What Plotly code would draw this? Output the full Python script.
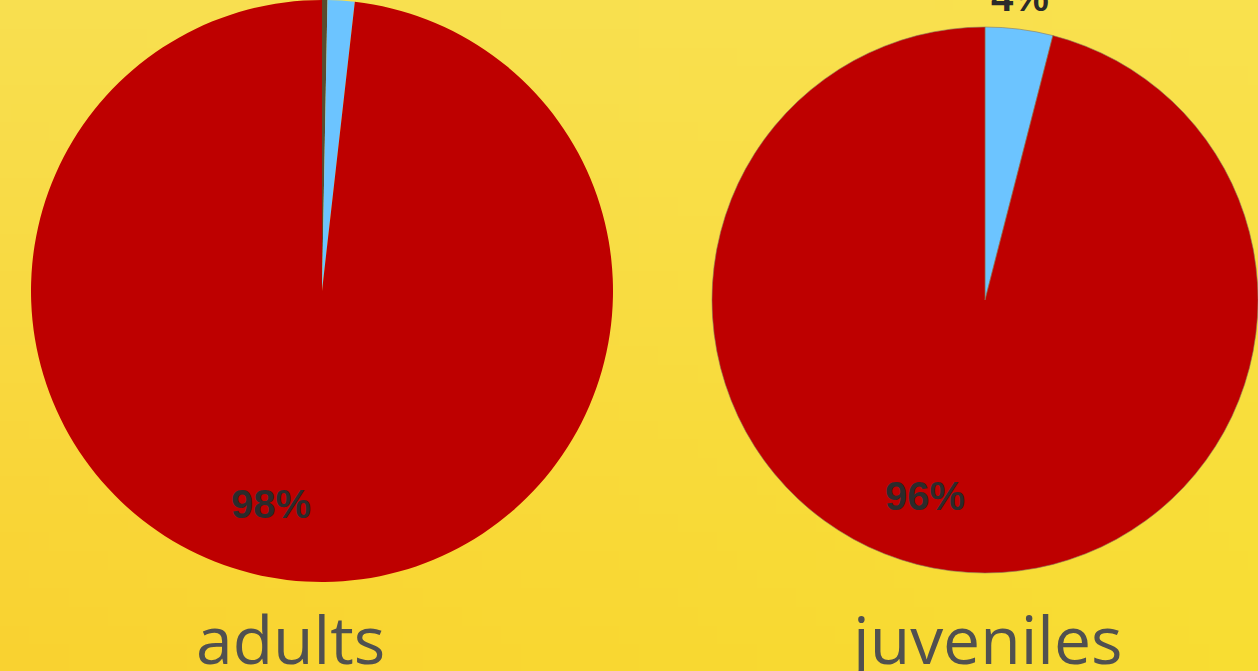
import base64
import struct
import zlib

import plotly.graph_objects as go

# ---- data ----
groups = ["adults", "juveniles"]
categories = ["other", "blue", "red"]
adult_values = [0.3, 1.5, 98.2]
juvenile_values = [0.0, 4.0, 96.0]
adult_labels = ["98%"]
juvenile_labels = ["4%", "96%"]

colors = ["#5A4B2E", "#6CC4FF", "#BE0000"]

W, H = 1258, 671


# ---- gradient background as an embedded PNG ----
def make_png(w, h, corners):
    tl, tr, bl, br = corners
    rows = []
    for j in range(h):
        v = j / (h - 1)
        row = bytearray([0])
        for i in range(w):
            u = i / (w - 1)
            for c in range(3):
                top = tl[c] * (1 - u) + tr[c] * u
                bot = bl[c] * (1 - u) + br[c] * u
                row.append(int(round(top * (1 - v) + bot * v)))
        rows.append(bytes(row))
    raw = b"".join(rows)

    def chunk(t, d):
        c = struct.pack(">I", len(d)) + t + d
        return c + struct.pack(">I", zlib.crc32(t + d) & 0xFFFFFFFF)

    data = b"\x89PNG\r\n\x1a\n"
    data += chunk(b"IHDR", struct.pack(">IIBBBBB", w, h, 8, 2, 0, 0, 0))
    data += chunk(b"IDAT", zlib.compress(raw, 9))
    data += chunk(b"IEND", b"")
    return "data:image/png;base64," + base64.b64encode(data).decode()


bg = make_png(64, 36, [(248, 223, 80), (249, 225, 78), (249, 210, 48), (248, 221, 50)])


def px_x(a, b):
    return [a / W, min(b / W, 1.0)]


def px_y(top, bottom):
    return [max(1 - bottom / H, 0.0), min(1 - top / H, 1.0)]


fig = go.Figure()

fig.add_trace(go.Pie(
    labels=categories, values=adult_values,
    textinfo="none",
    sort=False, direction="clockwise", rotation=0,
    marker=dict(colors=colors, line=dict(width=0)),
    domain=dict(x=px_x(30, 614), y=px_y(0, 582)),
    showlegend=False, hoverinfo="label+percent",
))

fig.add_trace(go.Pie(
    labels=categories, values=juvenile_values,
    textinfo="none",
    sort=False, direction="clockwise", rotation=0,
    marker=dict(colors=colors, line=dict(width=0.6, color="#8A7A60")),
    domain=dict(x=px_x(712, 1258), y=px_y(27, 573)),
    showlegend=False, hoverinfo="label+percent",
))

pct_font = dict(family="Liberation Sans", size=40, color="#2B2B2B", weight="bold")
label_pos = [(adult_labels[0], 271, 504), (juvenile_labels[0], 1020, -3), (juvenile_labels[1], 925, 496)]
for txt, x, y in label_pos:
    fig.add_annotation(
        text=txt, x=x / W, y=1 - y / H, xref="paper", yref="paper",
        xanchor="center", yanchor="middle", showarrow=False, font=pct_font,
    )

for name, xc in zip(groups, [290, 985]):
    fig.add_annotation(
        text=name, x=xc / W, y=1 - 662 / H, xref="paper", yref="paper",
        xanchor="center", yanchor="bottom", yshift=-23, showarrow=False,
        font=dict(family="Open Sans", size=66, color="#505050", weight=400),
    )

fig.update_layout(
    width=W, height=H,
    margin=dict(l=0, r=0, t=0, b=0),
    paper_bgcolor="#F8DB3E",
    plot_bgcolor="#F8DB3E",
    images=[dict(source=bg, xref="paper", yref="paper", x=0, y=1,
                 sizex=1, sizey=1, xanchor="left", yanchor="top",
                 sizing="stretch", layer="below")],
)

fig.write_html(
    "out.html",
    config={"displayModeBar": False},
    post_script="document.body.style.margin='0';document.body.style.overflow='hidden';",
)
